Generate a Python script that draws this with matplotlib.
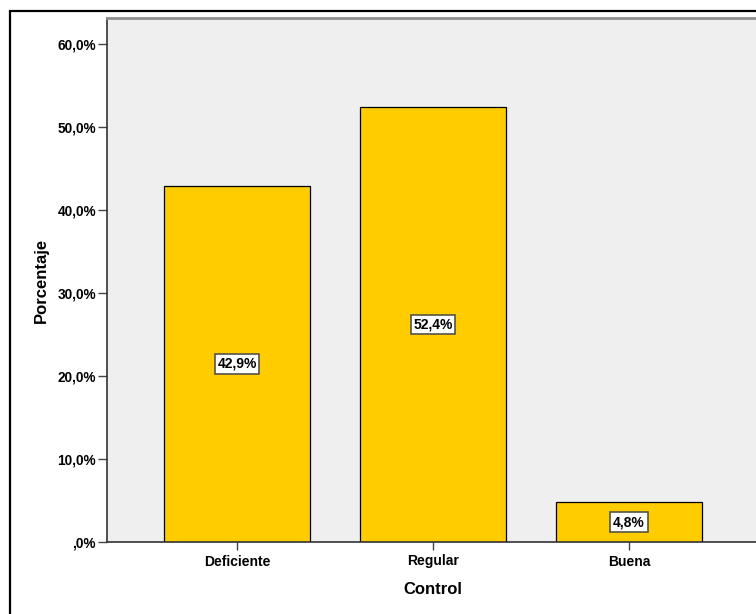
import matplotlib
matplotlib.use("Agg")
import matplotlib.pyplot as plt
from matplotlib.patches import Rectangle

plt.rcParams['font.family'] = ['Liberation Sans', 'DejaVu Sans']

categories = ["Deficiente", "Regular", "Buena"]
percent = [42.9, 52.4, 4.8]
yticks = [0, 10, 20, 30, 40, 50, 60]
ytick_labels = [",0%", "10,0%", "20,0%", "30,0%", "40,0%", "50,0%", "60,0%"]

fig = plt.figure(figsize=(7.56, 6.14), dpi=100)
W, H = 756, 614

# outer frame, runs off the right and bottom edges
frame = Rectangle((9.5 / W, -0.2), 1.2, (H - 11) / H + 0.2, transform=fig.transFigure,
                  fill=False, edgecolor="black", linewidth=1.6, clip_on=False)
fig.patches.append(frame)

ax = fig.add_axes([107 / W, (H - 542) / H, (759 - 107) / W, (542 - 18) / H])
ax.set_facecolor("#efefef")

x = range(len(categories))
ax.bar(x, percent, width=0.745, color="#ffcc00", edgecolor="black", linewidth=0.9, zorder=2)

for i, v in enumerate(percent):
    ax.text(i, v / 2, f"{v:.1f}".replace(".", ",") + "%", ha="center", va="center",
            fontsize=10, fontweight="bold", color="black", zorder=3,
            bbox=dict(boxstyle="square,pad=0.2", facecolor="white",
                      edgecolor="#555544", linewidth=1.2))

ax.set_xlim(-0.663, 2.663)
ax.set_ylim(0, 63.1)
ax.set_xticks(list(x))
ax.set_xticklabels(categories, fontsize=10, fontweight="bold")
ax.set_yticks(yticks)
ax.set_yticklabels(ytick_labels, fontsize=9.8, fontweight="bold")
ax.tick_params(axis="y", direction="out", length=6.5, width=1, color="#444444", pad=1.5)
ax.tick_params(axis="x", direction="out", length=6, width=1, color="#444444", pad=3)

for side in ["left", "bottom"]:
    ax.spines[side].set_color("#333333")
    ax.spines[side].set_linewidth(1.2)
ax.spines["top"].set_color("#909090")
ax.spines["top"].set_linewidth(2)
ax.spines["right"].set_visible(False)

ax.set_ylabel("Porcentaje", fontsize=12, fontweight="bold", labelpad=6)
ax.set_xlabel("Control", fontsize=12, fontweight="bold", labelpad=10)

fig.savefig("out.png", dpi=100)
